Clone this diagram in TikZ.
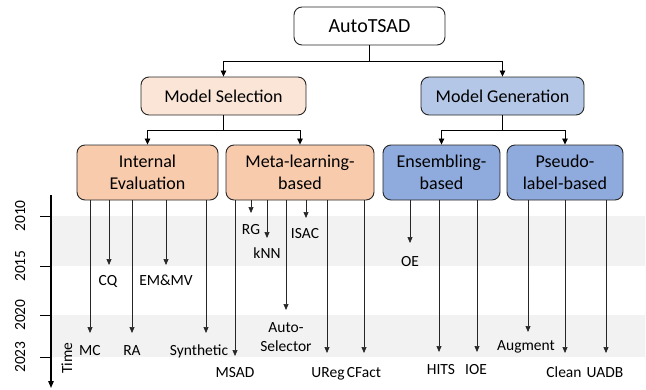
\documentclass[tikz,border=0pt]{standalone}
\usepackage{fontspec}
\setmainfont{Carlito}
\usetikzlibrary{arrows.meta}
\definecolor{msfill}{HTML}{FBE5D6}
\definecolor{iefill}{HTML}{F8CBAD}
\definecolor{mgfill}{HTML}{B4C7E7}
\definecolor{ebfill}{HTML}{8FAADC}
\definecolor{band}{HTML}{F2F2F2}
\definecolor{edge}{HTML}{262626}
\begin{document}
\begin{tikzpicture}[x=1pt,y=-1pt,
  box/.style={draw=edge,line width=0.9pt,rounded corners=8pt,align=center,inner sep=0pt,
    font=\fontsize{18}{22}\selectfont},
  conn/.style={line width=0.8pt,draw=black},
  arr/.style={conn,-{Triangle[width=5.5pt,length=6pt]}},
  tarr/.style={line width=0.7pt,draw=black!85,-{Triangle[width=5pt,length=6pt]}},
  lbl/.style={inner sep=0pt,text height=10pt,text depth=0pt,font=\fontsize{15.5}{19}\selectfont},
  lbl2/.style={inner sep=0pt,align=center,font=\fontsize{15.5}{19}\selectfont},
  yr/.style={lbl,rotate=90}]
\useasboundingbox (0,0) rectangle (646,389);
% bands
\fill[band] (52,216) rectangle (645,266);
\fill[band] (52,315) rectangle (645,357);
% axis
\draw[line width=1.2pt,-{Triangle[width=5.5pt,length=7pt]}] (51,195) -- (51,388);
\foreach \yy in {216,266,315,357} \draw[line width=1pt] (40,\yy) -- (51,\yy);
\node[yr] (y2010) at (20,216) {2010};
\node[yr] (y2015) at (20,266) {2015};
\node[yr] (y2020) at (20,315) {2020};
\node[yr] (y2023) at (20,357) {2023};
\node[yr] (time) at (67,358) {Time};
% boxes
\node[box,fill=white,minimum width=151pt,minimum height=38pt,font=\fontsize{20}{24}\selectfont] (auto) at (369.5,26) {AutoTSAD};
\node[box,fill=msfill,minimum width=165pt,minimum height=38pt] (ms) at (223.5,96) {Model Selection};
\node[box,fill=mgfill,minimum width=163pt,minimum height=38pt] (mg) at (502.5,96) {Model Generation};
\node[box,fill=iefill,minimum width=141pt,minimum height=55pt] (ie) at (147.5,172.5) {Internal\\Evaluation};
\node[box,fill=iefill,minimum width=148pt,minimum height=55pt] (ml) at (300,172.5) {Meta-learning-\\based};
\node[box,fill=ebfill,minimum width=117pt,minimum height=55pt] (eb) at (441.5,172.5) {Ensembling-\\based};
\node[box,fill=ebfill,minimum width=116pt,minimum height=55pt] (pl) at (565,172.5) {Pseudo-\\label-based};
% tree connectors
\coordinate (j0) at (369.5,61);
\coordinate (j1) at (223.5,130);
\coordinate (j2) at (502.5,130);
\draw[conn] (auto.south) -- (j0);
\draw[arr] (j0) -| (ms.north);
\draw[arr] (j0) -| (mg.north);
\draw[conn] (ms.south) -- (j1);
\draw[arr] (j1) -| (ie.north);
\draw[arr] (j1) -| (ml.north);
\draw[conn] (mg.south) -- (j2);
\draw[arr] (j2) -| (eb.north);
\draw[arr] (j2) -| (pl.north);
% tips
\coordinate (tMC) at (90,333);
\coordinate (tCQ) at (109,265);
\coordinate (tRA) at (132,333);
\coordinate (tEM) at (166,265);
\coordinate (tSy) at (206,333);
\coordinate (tMS) at (235,356);
\coordinate (tRG) at (251,213);
\coordinate (tKN) at (267,238);
\coordinate (tAS) at (286,310);
\coordinate (tIS) at (306,218);
\coordinate (tUR) at (327,353);
\coordinate (tCF) at (364,353);
\coordinate (tOE) at (410,243);
\coordinate (tHI) at (439,352);
\coordinate (tIO) at (477,352);
\coordinate (tAu) at (528,332);
\coordinate (tCl) at (565,353);
\coordinate (tUA) at (606,353);
% labels
\node[lbl] (lMC) at (90,350) {MC};
\node[lbl] (lCQ) at (108,280) {CQ};
\node[lbl] (lRA) at (132,350) {RA};
\node[lbl] (lEM) at (166,280) {EM\&MV};
\node[lbl] (lSy) at (199,350) {Synthetic};
\node[lbl] (lMS) at (235,372) {MSAD};
\node[lbl] (lRG) at (251,229) {RG};
\node[lbl] (lKN) at (267,253) {kNN};
\node[lbl2] (lAS) at (286,337) {Auto-\\Selector};
\node[lbl] (lIS) at (305,233) {ISAC};
\node[lbl] (lUR) at (328,372) {UReg};
\node[lbl] (lCF) at (364,372) {CFact};
\node[lbl] (lOE) at (410,261) {OE};
\node[lbl] (lHI) at (441,369) {HITS};
\node[lbl] (lIO) at (476,369) {IOE};
\node[lbl] (lAu) at (526,345) {Augment};
\node[lbl] (lCl) at (564,372) {Clean};
\node[lbl] (lUA) at (605,372) {UADB};
% timeline arrows
\foreach \t in {tMC,tCQ,tRA,tEM,tSy} \draw[tarr] (ie.south -| \t) -- (\t);
\foreach \t in {tMS,tRG,tKN,tAS,tIS,tUR,tCF} \draw[tarr] (ml.south -| \t) -- (\t);
\foreach \t in {tOE,tHI,tIO} \draw[tarr] (eb.south -| \t) -- (\t);
\foreach \t in {tAu,tCl,tUA} \draw[tarr] (pl.south -| \t) -- (\t);
\end{tikzpicture}
\end{document}
